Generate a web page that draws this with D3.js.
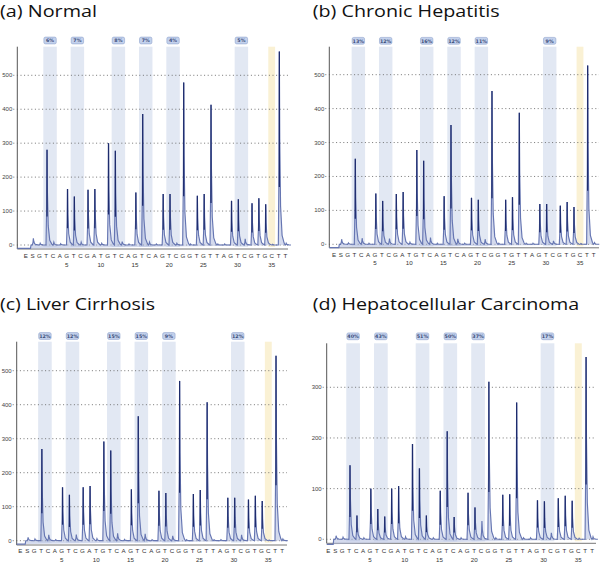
<!DOCTYPE html>
<html><head><meta charset="utf-8">
<script src="https://cdn.jsdelivr.net/npm/d3@7/dist/d3.min.js"></script>
<style>body{margin:0;background:#fff}svg{display:block}</style>
</head><body>
<svg id="chart" width="600" height="563"></svg>
<script>
// Dispensation order (E, S, then positions 1..37)
const dispensation = ["E","S","G","T","C","A","G","T","C","G","A","T","G","T","C","A","G","T","C","A","G","T","C","G","G","T","G","T","T","A","G","T","C","G","T","G","C","T","T"];
const positions = dispensation.map((d, i) => i - 1);

// Peak heights per dispensation (index 0 = E, 1 = S, 2.. = positions 1..37)
const valuesA = [0, 20, 5, 281, 8, 4, 165, 143, 8, 163, 165, 5, 300, 278, 10, 3, 155, 386, 8, 3, 150, 150, 5, 479, 3, 145, 150, 413, 3, 3, 130, 135, 18, 123, 138, 120, 2, 570, 5];
const valuesB = [0, 15, 4, 252, 18, 3, 150, 128, 17, 148, 154, 6, 278, 246, 20, 3, 142, 352, 16, 3, 137, 131, 15, 452, 3, 131, 139, 388, 3, 3, 119, 119, 10, 114, 125, 110, 2, 527, 5];
const valuesC = [0, 10, 5, 270, 17, 3, 157, 135, 18, 157, 161, 6, 292, 265, 22, 4, 151, 366, 20, 3, 147, 140, 14, 470, 3, 137, 149, 407, 3, 3, 126, 126, 17, 121, 132, 117, 2, 544, 5];
const valuesD = [0, 7, 4, 146, 47, 3, 100, 60, 45, 100, 105, 5, 188, 140, 47, 3, 96, 213, 44, 3, 92, 63, 36, 311, 3, 88, 89, 270, 3, 3, 77, 75, 13, 81, 86, 76, 2, 360, 5];

// CpG sites (T/C dispensation pairs) and methylation percentages
const cpgPairs = [[2,3],[6,7],[12,13],[16,17],[20,21],[30,31]];
const pctA = ["6%","7%","8%","7%","4%","5%"];
const pctB = ["13%","12%","16%","12%","11%","9%"];
const pctC = ["12%","12%","15%","15%","9%","12%"];
const pctD = ["40%","43%","51%","50%","37%","17%"];
const controlPos = 35;

const xTicks = [5,10,15,20,25,30,35];
const yTicksABC = [0,100,200,300,400,500];
const yTicksD = [0,100,200,300];
const titles = ["(a) Normal","(b) Chronic Hepatitis","(c) Liver Cirrhosis","(d) Hepatocellular Carcinoma"];
const startLevel = -10;

// Layout (pixels)
const layouts = [
  {title:titles[0], vals:valuesA, pct:pctA, yt:yTicksABC, tx:0, ty:16.5, tw:97, ax:17.3, x5:66.7, x35:271.7, y0:245, yTop:46.7, vTop:584.3, right:288, axY:249, letY:258, numY:266.5, labY:40.5},
  {title:titles[1], vals:valuesB, pct:pctB, yt:yTicksABC, tx:312.7, ty:16.5, tw:187, ax:329.3, x5:375, x35:580, y0:244.3, yTop:46.7, vTop:582.5, right:599, axY:247.8, letY:256.5, numY:265, labY:40.8},
  {title:titles[2], vals:valuesC, pct:pctC, yt:yTicksABC, tx:0, ty:309.5, tw:155, ax:16.7, x5:61.7, x35:268.3, y0:540.7, yTop:341.7, vTop:585.3, right:287, axY:545, letY:552.5, numY:561.5, labY:336},
  {title:titles[3], vals:valuesD, pct:pctD, yt:yTicksD, tx:312.7, ty:309.5, tw:266.6, ax:326.7, x5:370, x35:578.3, y0:539.3, yTop:343.3, vTop:386.8, right:596, axY:543.3, letY:552.5, numY:561.5, labY:336.3}
];

const svg = d3.select("#chart");

layouts.forEach(L => {
  const g = svg.append("g");
  const x = d3.scaleLinear().domain([5, 35]).range([L.x5, L.x35]);
  const y = d3.scaleLinear().domain([0, L.vTop]).range([L.y0, L.yTop]);

  // title
  g.append("text").attr("x", L.tx).attr("y", L.ty)
    .attr("font-family", "Open Sans, Lato, sans-serif").attr("font-size", 17)
    .attr("fill", "#111").attr("textLength", L.tw).attr("lengthAdjust", "spacingAndGlyphs")
    .text(L.title);

  // CpG bands
  cpgPairs.forEach((pr, i) => {
    const x0 = x(pr[0] - 0.42), x1 = x(pr[1] + 0.55);
    g.append("rect").attr("x", x0).attr("y", L.yTop).attr("width", x1 - x0).attr("height", L.y0 + 2 - L.yTop)
      .attr("fill", "#e2e8f3");
    const cx = (x0 + x1) / 2;
    g.append("rect").attr("x", cx - 6.2).attr("y", L.labY - 3.4).attr("width", 12.4).attr("height", 6.8)
      .attr("rx", 1.6).attr("fill", "#c3d1ec").attr("stroke", "#8ea2cc").attr("stroke-width", 0.6);
    g.append("text").attr("x", cx).attr("y", L.labY + 1.8).attr("text-anchor", "middle")
      .attr("font-family", "DejaVu Sans, sans-serif").attr("font-size", 4.8).attr("font-weight", "bold")
      .attr("fill", "#3a4b78").text(L.pct[i]);
  });
  // control band
  g.append("rect").attr("x", x(controlPos - 0.5)).attr("y", L.yTop)
    .attr("width", x(controlPos + 0.5) - x(controlPos - 0.5)).attr("height", L.y0 + 2 - L.yTop)
    .attr("fill", "#faf1d4");

  // grid + y labels
  L.yt.forEach(t => {
    g.append("line").attr("x1", L.ax - 4).attr("x2", L.right).attr("y1", y(t)).attr("y2", y(t))
      .attr("stroke", "#666").attr("stroke-width", 0.9).attr("stroke-dasharray", "1,2.6");
    g.append("text").attr("x", L.ax - 5).attr("y", y(t) + 2).attr("text-anchor", "end")
      .attr("font-family", "Liberation Sans, Arial, sans-serif").attr("font-size", 6)
      .attr("fill", "#444").text(t);
  });

  // axes lines
  g.append("line").attr("x1", L.ax).attr("x2", L.ax).attr("y1", L.yTop).attr("y2", L.axY)
    .attr("stroke", "#555").attr("stroke-width", 1);
  g.append("line").attr("x1", L.ax).attr("x2", L.right).attr("y1", L.axY).attr("y2", L.axY)
    .attr("stroke", "#777").attr("stroke-width", 1);

  // dispensation letters and position numbers
  dispensation.forEach((d, i) => {
    g.append("text").attr("x", x(positions[i])).attr("y", L.letY).attr("text-anchor", "middle")
      .attr("font-family", "Liberation Sans, Arial, sans-serif").attr("font-size", 6.2)
      .attr("fill", "#333").text(d);
  });
  xTicks.forEach(t => {
    g.append("text").attr("x", x(t)).attr("y", L.numY).attr("text-anchor", "middle")
      .attr("font-family", "Liberation Sans, Arial, sans-serif").attr("font-size", 6.2)
      .attr("fill", "#333").text(t);
  });

  // trace
  const pts = [[L.ax, startLevel], [x(-0.3), startLevel]];
  const raw = [];
  raw.push([-0.22, 0]);
  L.vals.forEach((v, i) => {
    const p = positions[i];
    if (p < 0) return;
    const c = p + 0.12;
    raw.push([c - 0.15, 0], [c - 0.05, 0.4 * v], [c, v], [c + 0.06, 0.55 * v],
             [c + 0.18, 0.2 * v], [c + 0.4, 0.05 * v], [c + 0.7, 0.01 * v]);
  });
  const line = d3.line().x(d => d[0]).y(d => y(d[1]));
  const all = pts.concat(raw.map(d => [x(d[0]), d[1]])).concat([[L.right, 0]]);
  g.append("path").attr("d", line(all)).attr("fill", "#aab6db").attr("fill-opacity", 0.5)
    .attr("stroke", "#6676b2").attr("stroke-width", 1.15);
  // dark spikes
  L.vals.forEach((v, i) => {
    const p = positions[i];
    if (p < 0 || v < 40) return;
    g.append("line").attr("x1", x(p + 0.12)).attr("x2", x(p + 0.12))
      .attr("y1", y(0.3 * v)).attr("y2", y(v))
      .attr("stroke", "#1d2b6c").attr("stroke-width", 1.25);
  });
});
</script>
</body></html>
